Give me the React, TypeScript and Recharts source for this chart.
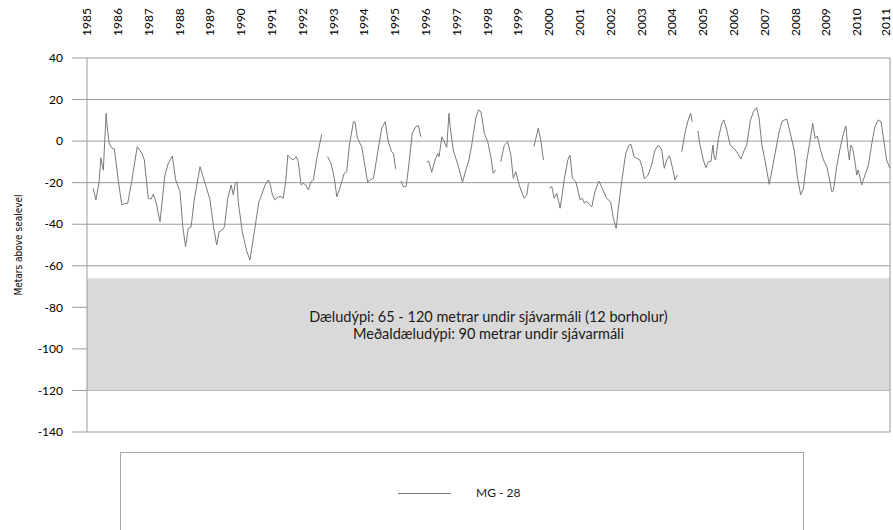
import React from "react";
import {
  LineChart, Line, XAxis, YAxis, CartesianGrid, ReferenceArea, ReferenceLine,
} from "recharts";

// Measurement dates (decimal years) and water level in MG-28, metres above sea level.
// null marks a break in the record.
const dates = [
  1985.2, 1985.29, 1985.39, 1985.45, 1985.53, 1985.62, 1985.66, 1985.72, 1985.8, 1985.89,
  1986.02, 1986.13, 1986.23, 1986.32, 1986.45, 1986.63, 1986.78, 1986.86, 1986.99,
  1987.08, 1987.15, 1987.24, 1987.37, 1987.53, 1987.64, 1987.77, 1987.88,
  1988.02, 1988.11, 1988.2, 1988.29, 1988.38, 1988.48, 1988.67, 1988.85, 1988.99,
  1989.1, 1989.21, 1989.29, 1989.39, 1989.46, 1989.57, 1989.68, 1989.75, 1989.81, 1989.87, 1989.91,
  1990.04, 1990.19, 1990.29, 1990.45, 1990.58, 1990.67, 1990.78, 1990.89, 1990.94,
  1991.02, 1991.1, 1991.21, 1991.3, 1991.37, 1991.45, 1991.52, 1991.62, 1991.7, 1991.79, 1991.86, 1991.95,
  1992.02, 1992.1, 1992.19, 1992.27, 1992.35, 1992.46, 1992.62, 1992.7,
  1992.81, 1992.92, 1993.03, 1993.11, 1993.21, 1993.35, 1993.43, 1993.52, 1993.65, 1993.7, 1993.78, 1993.92,
  1994.0, 1994.11, 1994.19, 1994.3, 1994.44, 1994.57, 1994.68, 1994.78, 1994.89, 1994.95, 1995.02, 1995.1,
  1995.19, 1995.27, 1995.36, 1995.43, 1995.56, 1995.67, 1995.76, 1995.84, 1995.92,
  1996.03, 1996.1, 1996.19, 1996.3, 1996.39, 1996.43, 1996.52, 1996.68, 1996.75, 1996.79, 1996.89,
  1997.06, 1997.19, 1997.3, 1997.4, 1997.49, 1997.62, 1997.71, 1997.79, 1997.9,
  1998.01, 1998.11, 1998.19, 1998.27, 1998.35,
  1998.43, 1998.55, 1998.66, 1998.76, 1998.84, 1998.92, 1999.03, 1999.19, 1999.28, 1999.33, 1999.42,
  1999.51, 1999.65, 1999.73, 1999.82, 1999.9,
  2000.01, 2000.09, 2000.17, 2000.25, 2000.36, 2000.41, 2000.5, 2000.61, 2000.68, 2000.76, 2000.87,
  2001.01, 2001.08, 2001.15, 2001.22, 2001.3, 2001.39, 2001.49, 2001.62, 2001.73, 2001.87,
  2002.0, 2002.09, 2002.18, 2002.25, 2002.36, 2002.49, 2002.6, 2002.66, 2002.76, 2002.85, 2002.95,
  2003.03, 2003.09, 2003.22, 2003.33, 2003.44, 2003.55, 2003.66, 2003.74, 2003.82, 2003.91,
  2004.0, 2004.09, 2004.17, 2004.24,
  2004.31, 2004.42, 2004.52, 2004.6, 2004.65, 2004.72,
  2004.83, 2004.9, 2005.01, 2005.09, 2005.17, 2005.26, 2005.32, 2005.37, 2005.41, 2005.5, 2005.61,
  2005.68, 2005.77, 2005.88, 2005.98, 2006.09, 2006.23, 2006.34, 2006.42, 2006.53, 2006.63, 2006.74,
  2006.82, 2006.91, 2007.01, 2007.15, 2007.25, 2007.36, 2007.47, 2007.57, 2007.72, 2007.82, 2007.96,
  2008.07, 2008.17, 2008.26, 2008.37, 2008.47, 2008.56, 2008.64, 2008.71, 2008.8, 2008.91,
  2009.02, 2009.12, 2009.18, 2009.23, 2009.34, 2009.45, 2009.56, 2009.64, 2009.7, 2009.75, 2009.8,
  2009.86, 2009.94, 2009.99, 2010.04, 2010.15, 2010.26, 2010.37, 2010.48, 2010.58, 2010.69, 2010.78,
  2010.85, 2010.96, 2011.07,
];

const levels = [
  -22.7, -28.3, -20, -8, -14, 13.4, 6.3, -1, -3.2, -3.8,
  -19.5, -30.7, -30, -30, -19.5, -2.7, -5.9, -9, -27.5,
  -27.9, -25.6, -29.2, -38.8, -16.3, -10.7, -7.2, -18.7,
  -24.3, -41.2, -50.8, -42, -41.2, -28.3, -12.3, -21.1, -28,
  -40.4, -50, -43.6, -42.8, -41.2, -27.5, -21.1, -25.9, -20.4, -19.5, -29.2,
  -43.6, -53.2, -57.2, -42, -29.2, -25.9, -21.1, -18.7, -20.3,
  -25.9, -28.3, -26.8, -26.8, -27.5, -19.5, -6.7, -8.3, -9.1, -7.5, -9.9, -21.1,
  -20.3, -21.1, -23.5, -19.5, -18.7, -8.3, 3.3, null,
  -7.5, -10.5, -17.9, -26.8, -22.7, -15.5, -14.7, -1.9, 9.3, 9.3, 1.3, -2.7,
  -9.9, -19.8, -18.7, -17.9, -5.1, 6.2, 9.3, -0.3, -5.1, -5.9, -13.4, null,
  -19.2, -21.9, -21.9, -13.9, 3.8, 6.9, 7.4, 2.1, null,
  -9.9, -9.9, -15, -9.1, -5.9, -7.5, 2.1, -3, 13.4, 6.9, -4.3,
  -12.3, -19.8, -13.9, -9.1, -1.9, 11, 15, 14.1, 3.7,
  -0.3, -7.5, -15.5, -13.9, null,
  -9.9, -1.9, -0.3, -6.7, -17.9, -14.7, -21.1, -27.5, -25.9, -20.3, null,
  -2.7, 6.2, 0.5, -9.1, null,
  -22.7, -21.9, -27.5, -25.1, -32.3, -27.5, -17.9, -9.1, -6.7, -17.9, -19.5,
  -28.3, -27.5, -29.9, -28.8, -30.4, -31.6, -24.3, -19.2, -22.7, -27.5,
  -29.2, -37.2, -42, -32.3, -19.5, -5.9, -1.9, -1.6, -7.5, -8.3, -9.1,
  -13.1, -18.2, -16.3, -11.5, -4.3, -1.9, -4.3, -13.1, -9.1, -7,
  -12.3, -18.7, -16.3, null,
  -5.1, 4.5, 10.2, 13.4, 9.3, null,
  4.9, -1.9, -9.1, -12.8, -9.9, -9.6, -1.9, -8.3, -9.1, 1.3, 8.6,
  10.2, 5.3, -1.9, -3.2, -5.1, -8.6, -4.3, -1.9, 9.3, 14.1, 16.1,
  11, -1.9, -9.1, -20.8, -13.1, -4.3, 4.5, 9.7, 10.6, 4.5, -4.3,
  -17.9, -25.9, -22.7, -9.1, -0.3, 8.6, 1.3, 2.5, -3.5, -9.1,
  -12.3, -19.5, -24.3, -23.9, -12.3, -3.5, 3.7, 7.3, -3.5, -9.1, -1.9,
  -3.5, -10.7, -16.3, -13.9, -21.1, -16.3, -11.5, -1.1, 6.9, 10.2, 9.3,
  2.1, -9.1, -13.1,
];

const yearTicks = [
  1985, 1986, 1987, 1988, 1989, 1990, 1991, 1992, 1993, 1994, 1995, 1996, 1997, 1998,
  1999, 2000, 2001, 2002, 2003, 2004, 2005, 2006, 2007, 2008, 2009, 2010, 2011,
];
const levelTicks = [-140, -120, -100, -80, -60, -40, -20, 0, 20, 40];

// pumping depth range of the 12 production wells
const pumpTop = -66;
const pumpBottom = -120;
const bandLines = [
  "Dæludýpi:  65 - 120 metrar undir sjávarmáli (12 borholur)",
  "Meðaldæludýpi: 90 metrar undir sjávarmáli",
];
const seriesName = "MG - 28";

const data = dates.map((t, i) => ({ t, level: levels[i] }));

const gridColor = "#9a9a9a";
const tickFont = "Lato, 'Open Sans', sans-serif";

function YearTick({ x, payload }: any) {
  const y = 36;
  // keep the last label inside the page
  const cx = Math.min(x, 886);
  return (
    <text
      x={cx}
      y={y}
      transform={`rotate(-90, ${cx}, ${y})`}
      textAnchor="start"
      dy="0.35em"
      fontSize={12}
      fontFamily={tickFont}
      fill="#000"
    >
      {payload.value}
    </text>
  );
}

function BandLabel({ viewBox }: any) {
  const cx = viewBox.x + viewBox.width / 2;
  return (
    <g fontFamily={tickFont} fontSize={14.5} fill="#1a1a1a" textAnchor="middle">
      <text x={cx} y={viewBox.y + 44}>{bandLines[0]}</text>
      <text x={cx} y={viewBox.y + 61}>{bandLines[1]}</text>
    </g>
  );
}

function AxisTitle({ viewBox }: any) {
  const x = 18;
  const y = viewBox.y + viewBox.height / 2;
  return (
    <text
      x={x}
      y={y}
      transform={`rotate(-90, ${x}, ${y})`}
      textAnchor="middle"
      dy="0.35em"
      fontSize={10}
      fontFamily="'DejaVu Sans Condensed', 'DejaVu Sans', sans-serif"
      fill="#000"
    >
      Metars above sealevel
    </text>
  );
}

export default function App() {
  return (
    <div style={{ position: "relative", width: 893, height: 530, overflow: "hidden", background: "#fff" }}>
      <style>{`body{margin:0}`}</style>
      <LineChart
        width={893}
        height={530}
        data={data}
        margin={{ top: 0, right: 3, bottom: 98, left: 0 }}
      >
        <CartesianGrid vertical={false} stroke={gridColor} />
        <XAxis
          dataKey="t"
          type="number"
          orientation="top"
          domain={[1985, 2011.07]}
          ticks={yearTicks}
          interval={0}
          height={58}
          axisLine={false}
          tickLine={false}
          tick={<YearTick />}
        />
        <YAxis
          type="number"
          domain={[-140, 40]}
          ticks={levelTicks}
          interval={0}
          width={87}
          tickSize={15}
          tickMargin={9}
          axisLine={{ stroke: gridColor }}
          tickLine={{ stroke: gridColor }}
          tick={{ fill: "#000", fontSize: 12, fontFamily: tickFont }}
          label={<AxisTitle />}
        />
        <ReferenceArea
          y1={pumpBottom}
          y2={pumpTop}
          fill="#d9d9d9"
          fillOpacity={1}
          stroke="none"
          label={<BandLabel />}
        />
        <ReferenceLine x={2011.07} stroke={gridColor} />
        <Line
          type="linear"
          dataKey="level"
          name={seriesName}
          stroke="#7a7a7a"
          strokeWidth={1}
          dot={false}
          connectNulls={false}
          isAnimationActive={false}
        />
      </LineChart>
      <div
        style={{
          position: "absolute",
          left: 120,
          top: 452,
          width: 684,
          height: 120,
          border: "1px solid #a6a6a6",
          boxSizing: "border-box",
        }}
      >
        <div
          style={{
            position: "absolute",
            left: 277,
            top: 40,
            width: 53,
            borderTop: "1px solid #7a7a7a",
          }}
        />
        <div
          style={{
            position: "absolute",
            left: 355,
            top: 32,
            fontSize: 12,
            fontFamily: tickFont,
            color: "#1a1a1a",
          }}
        >
          {seriesName}
        </div>
      </div>
    </div>
  );
}
